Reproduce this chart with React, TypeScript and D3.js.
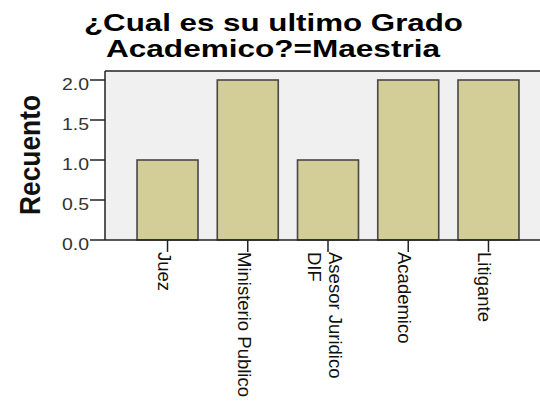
import React from "react";
import * as d3 from "d3";

const categories: string[][] = [
  ["Juez"],
  ["Ministerio Publico"],
  ["Asesor Juridico", "DIF"],
  ["Academico"],
  ["Litigante"],
];
const counts: number[] = [1, 2, 1, 2, 2];
const yTicks: number[] = [0, 0.5, 1, 1.5, 2];
const titleLines: string[] = ["¿Cual es su ultimo Grado", "Academico?=Maestria"];
const yLabel = "Recuento";

const W = 540;
const H = 401;
const plotLeft = 105;
const plotTop = 71;
const plotBottom = 240;
const plotRight = 545;

export default function App() {
  const keys = categories.map((c) => c.join(" "));
  const x = d3
    .scaleBand<string>()
    .domain(keys)
    .range([127.4, 528.6])
    .paddingInner(0.24)
    .paddingOuter(0.12);
  const y = d3.scaleLinear().domain([0, 2]).range([plotBottom, 80]);
  const fmt = d3.format(".1f");
  const font = "'Liberation Sans', Arial, sans-serif";

  return (
    <svg
      width={W}
      height={H}
      style={{ position: "absolute", left: 0, top: 0, background: "#fff" }}
      fontFamily={font}
    >
      {/* Title */}
      <text x={273.5} y={31} fontSize={24} fontWeight="bold" textAnchor="middle" textLength={379} lengthAdjust="spacingAndGlyphs" fill="#000">
        {titleLines[0]}
      </text>
      <text x={273} y={57} fontSize={24} fontWeight="bold" textAnchor="middle" textLength={334} lengthAdjust="spacingAndGlyphs" fill="#000">
        {titleLines[1]}
      </text>

      {/* Plot background */}
      <rect x={plotLeft} y={plotTop} width={plotRight - plotLeft} height={plotBottom - plotTop} fill="#f0f0f0" />

      {/* Bars */}
      {counts.map((v, i) => (
        <rect
          key={keys[i]}
          x={x(keys[i])!}
          y={y(v)}
          width={x.bandwidth()}
          height={y(0) - y(v)}
          fill="#d3ce97"
          stroke="#474747"
          strokeWidth={1.6}
        />
      ))}

      {/* Frame */}
      <line x1={plotLeft} x2={plotRight} y1={plotTop} y2={plotTop} stroke="#222" strokeWidth={1.5} />
      <line x1={plotLeft} x2={plotLeft} y1={plotTop} y2={plotBottom} stroke="#222" strokeWidth={1.5} />
      <line x1={plotLeft} x2={plotRight} y1={plotBottom} y2={plotBottom} stroke="#222" strokeWidth={1.5} />

      {/* Y ticks */}
      {yTicks.map((t) => (
        <g key={t}>
          <line x1={90} x2={plotLeft} y1={y(t)} y2={y(t)} stroke="#222" strokeWidth={1.5} />
          <text x={89} y={y(t) + 9.5} fontSize={16} textAnchor="end" textLength={27} lengthAdjust="spacingAndGlyphs" fill="#333">
            {fmt(t)}
          </text>
        </g>
      ))}

      {/* Y label */}
      <text
        transform={`translate(40,155) scale(1.1,1) rotate(-90)`}
        fontSize={26}
        fontWeight="bold"
        textAnchor="middle"
        textLength={120}
        lengthAdjust="spacingAndGlyphs"
        fill="#111"
      >
        {yLabel}
      </text>

      {/* X ticks and labels */}
      {categories.map((lines, i) => {
        const cx = x(keys[i])! + x.bandwidth() / 2;
        const n = lines.length;
        return (
          <g key={keys[i]}>
            <line x1={cx} x2={cx} y1={plotBottom} y2={252} stroke="#222" strokeWidth={1.5} />
            {lines.map((ln, j) => {
              const bx = cx - 10 + (n - 1) * 10.5 - j * 21;
              return (
                <text
                  key={j}
                  transform={`translate(${bx},252) rotate(90)`}
                  fontSize={18.5}
                  fill="#111"
                >
                  {ln}
                </text>
              );
            })}
          </g>
        );
      })}
    </svg>
  );
}
